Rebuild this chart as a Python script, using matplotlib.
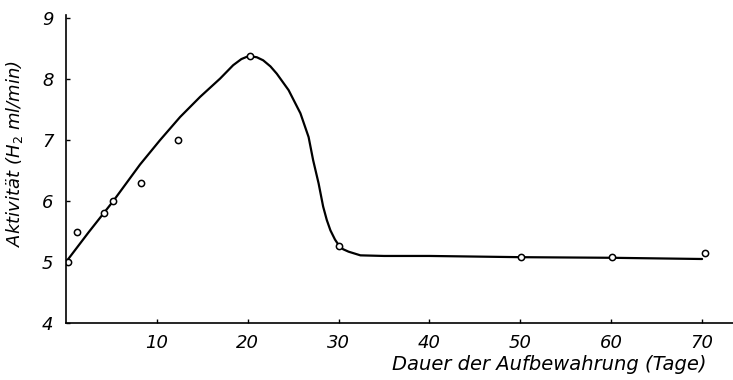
import numpy as np
import matplotlib.pyplot as plt

# measured points (days, activity)
days = [0.2, 1.2, 4.2, 5.2, 8.3, 12.3, 20.2, 30.0, 50.1, 60.1, 70.3]
activity = [5.0, 5.5, 5.8, 6.0, 6.3, 7.0, 8.38, 5.26, 5.09, 5.09, 5.15]

# hand-drawn curve
curve_x = [0.0, 2.5, 5.2, 8.15, 10.35, 12.56, 14.76, 16.96, 18.4, 19.3, 20.1, 21.0,
           21.7, 22.5, 23.2, 24.5, 25.8, 26.7, 27.2, 27.8, 28.3, 28.7, 29.1, 29.6,
           30.0, 30.5, 31.1, 32.4, 35.0, 40.0, 50.0, 60.0, 70.0]
curve_y = [5.0, 5.49, 6.0, 6.6, 7.0, 7.38, 7.71, 8.01, 8.23, 8.33, 8.38, 8.36,
           8.31, 8.21, 8.09, 7.82, 7.44, 7.05, 6.67, 6.29, 5.91, 5.69, 5.52, 5.37,
           5.28, 5.21, 5.17, 5.11, 5.1, 5.1, 5.08, 5.07, 5.05]

xticks = [10, 20, 30, 40, 50, 60, 70]
yticks = [4, 5, 6, 7, 8, 9]

plt.rcParams['font.family'] = ['Liberation Sans Narrow', 'DejaVu Sans']

fig = plt.figure(figsize=(7.33, 3.8), dpi=100)
ax = fig.add_axes([0.09, 0.15, 0.91, 0.81])

ax.plot(curve_x, curve_y, color='black', lw=1.6, solid_capstyle='round')
ax.plot(days, activity, 'o', ms=4.5, mfc='white', mec='black', mew=1.1)

ax.set_xlim(0, 73.4)
ax.set_ylim(4, 9.05)
ax.spines['top'].set_visible(False)
ax.spines['right'].set_visible(False)
ax.spines['left'].set_linewidth(1.2)
ax.spines['bottom'].set_linewidth(1.2)

ax.set_xticks(xticks)
ax.set_yticks(yticks)
ax.set_xticklabels([str(t) for t in xticks], style='italic', fontsize=13)
ax.set_yticklabels([str(t) for t in yticks], style='italic', fontsize=13)
ax.tick_params(direction='in', length=3, width=1)
ax.tick_params(axis='x', pad=8)
ax.tick_params(axis='y', pad=9)

ax.set_xlabel('Dauer der Aufbewahrung (Tage)', style='italic', fontsize=14, x=0.725, labelpad=2)
ax.set_ylabel('Aktivität (H$_2$ ml/min)', style='italic', fontsize=13)
ax.yaxis.set_label_coords(-0.062, 0.55)

fig.savefig('out.png', dpi=100)
